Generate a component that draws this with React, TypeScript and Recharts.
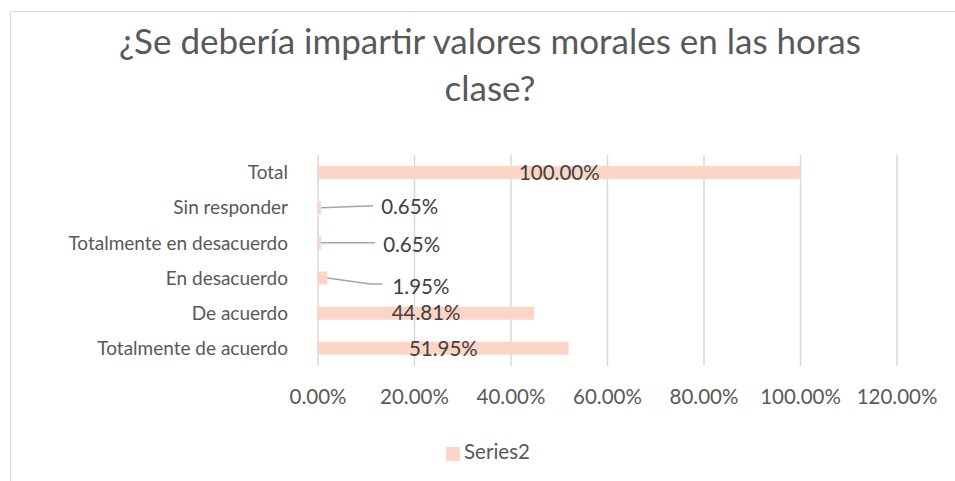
import { BarChart, Bar, XAxis, YAxis, CartesianGrid, Legend, LabelList } from 'recharts'

const categories = ['Total', 'Sin responder', 'Totalmente en desacuerdo', 'En desacuerdo', 'De acuerdo', 'Totalmente de acuerdo']
const series2 = [1.0, 0.0065, 0.0065, 0.0195, 0.4481, 0.5195]
const xTicks = [0, 0.2, 0.4, 0.6, 0.8, 1.0, 1.2]

const data = categories.map((name, i) => ({ name, Series2: series2[i] }))

const FONT = 'Lato, "Open Sans", sans-serif'
const BAR_COLOR = '#fcd5c6'

// where the small-value labels sit, relative to the bar end (leader line elbow + label)
const leaders: Record<number, { pts: [number, number][]; lx: number; ly: number }> = {
  1: { pts: [[0, 0], [52, -2]], lx: 60, ly: -1 },
  2: { pts: [[0, 0], [54, 0]], lx: 62, ly: 2 },
  3: { pts: [[0, 0], [43, 6], [55, 6]], lx: 65, ly: 9 },
}

const pct = (v: number) => (v * 100).toFixed(2) + '%'

function BarLabel(props: any) {
  const { x, y, width, height, value, index } = props
  const cy = y + height / 2
  const lead = leaders[index]
  if (!lead) {
    return (
      <text x={x + width / 2} y={cy} dy="0.35em" textAnchor="middle" fill="#404040" fontSize={20.5} fontFamily={FONT}>
        {pct(value)}
      </text>
    )
  }
  const x0 = x + width
  const d = lead.pts.map((p, i) => `${i === 0 ? 'M' : 'L'}${x0 + p[0]},${cy + p[1]}`).join(' ')
  return (
    <g>
      <path d={d} stroke="#a6a6a6" strokeWidth={1.5} fill="none" />
      <text x={x0 + lead.lx} y={cy + lead.ly} dy="0.35em" textAnchor="start" fill="#404040" fontSize={20.5} fontFamily={FONT}>
        {pct(value)}
      </text>
    </g>
  )
}

export default function App() {
  return (
    <div style={{ position: 'absolute', left: 0, top: 0, width: 955, height: 481, background: '#fff', overflow: 'hidden' }}>
      <div style={{ position: 'absolute', left: 10, top: 11, width: 960, height: 500, borderLeft: '1.5px solid #d9d9d9', borderTop: '1.5px solid #d9d9d9' }} />
      <div
        style={{
          position: 'absolute', left: 10, top: 17, width: 960, textAlign: 'center',
          fontFamily: FONT, fontSize: 35, lineHeight: '47px', color: '#595959',
        }}
      >
        ¿Se debería impartir valores morales en las horas<br />clase?
      </div>
      <BarChart
        width={955}
        height={481}
        data={data}
        layout="vertical"
        barSize={13}
        margin={{ top: 155, right: 58, bottom: 27, left: 18 }}
        style={{ position: 'absolute', left: 0, top: 0 }}
      >
        <CartesianGrid horizontal={false} stroke="#d9d9d9" strokeWidth={1.5} />
        <XAxis
          type="number"
          domain={[0, 1.2]}
          ticks={xTicks}
          tickFormatter={pct}
          axisLine={false}
          tickLine={false}
          tickMargin={17}
          height={60}
          tick={{ fill: '#595959', fontSize: 20.5, fontFamily: FONT }}
        />
        <YAxis
          type="category"
          dataKey="name"
          width={300}
          axisLine={false}
          tickLine={false}
          tickSize={0}
          tickMargin={30}
          tick={{ fill: '#595959', fontSize: 19, fontFamily: FONT }}
        />
        <Legend
          verticalAlign="bottom"
          iconType="square"
          iconSize={14}
          wrapperStyle={{ fontFamily: FONT, fontSize: 20.5, color: '#595959', left: 0, width: 986, top: 437, bottom: 'auto', lineHeight: '28px' }}
          formatter={(v: string) => <span style={{ color: '#595959' }}>{v}</span>}
        />
        <Bar dataKey="Series2" fill={BAR_COLOR} isAnimationActive={false}>
          <LabelList dataKey="Series2" content={BarLabel} />
        </Bar>
      </BarChart>
    </div>
  )
}
